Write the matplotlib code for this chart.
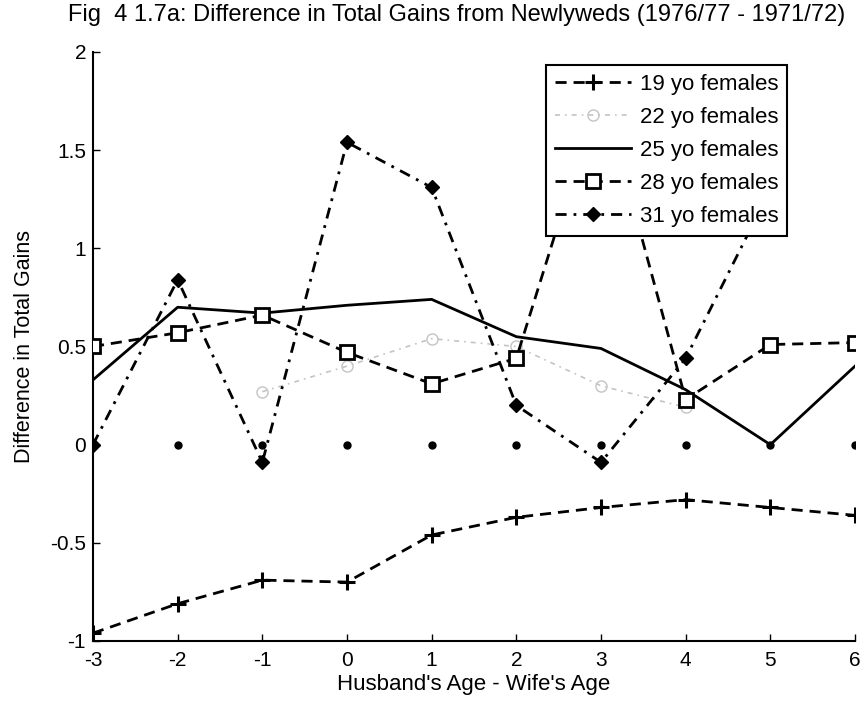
import numpy as np
import matplotlib
matplotlib.use("Agg")
import matplotlib.pyplot as plt

plt.rcParams['font.family'] = ['Liberation Sans', 'DejaVu Sans']
plt.rcParams['axes.unicode_minus'] = False

x = [-3, -2, -1, 0, 1, 2, 3, 4, 5, 6]
nan = np.nan
y19 = [-0.96, -0.81, -0.69, -0.70, -0.46, -0.37, -0.32, -0.28, -0.32, -0.36]
y22 = [nan, nan, 0.27, 0.40, 0.54, 0.50, 0.30, 0.19, nan, nan]
y25 = [0.33, 0.70, 0.67, 0.71, 0.74, 0.55, 0.49, 0.28, 0.00, 0.40]
y28 = [0.50, 0.57, 0.66, 0.47, 0.31, 0.44, 1.82, 0.23, 0.51, 0.52]
y31 = [0.00, 0.84, -0.09, 1.54, 1.31, 0.20, -0.09, 0.44, 1.30, nan]
zero = [0, 0, 0, 0, 0, 0, 0, 0, 0, 0]
labels = ['19 yo females', '22 yo females', '25 yo females', '28 yo females', '31 yo females']
xticks = [-3, -2, -1, 0, 1, 2, 3, 4, 5, 6]
yticks = [-1, -0.5, 0, 0.5, 1, 1.5, 2]
yticklabels = ['-1', '-0.5', '0', '0.5', '1', '1.5', '2']

fig = plt.figure(figsize=(8.63, 7.02), dpi=100)
ax = fig.add_axes([93/863, 61/702, 762/863, 589/702])

lw = 2.0
ax.plot(x, zero, linestyle='none', marker='o', color='black', markersize=5, zorder=2)
ax.plot(x, y19, color='black', linestyle=(0, (4, 2.5)), linewidth=lw, marker='+', markersize=12,
        markeredgewidth=2.2, label=labels[0], zorder=3)
ax.plot(x, y22, color='#c4c4c4', linestyle=(0, (3, 3, 1, 3)), linewidth=1.2, marker='o', markersize=8,
        markerfacecolor='none', markeredgecolor='#c4c4c4', markeredgewidth=1.0, label=labels[1], zorder=2)
ax.plot(x, y25, color='black', linestyle='-', linewidth=lw, label=labels[2], zorder=3)
ax.plot(x, y28, color='black', linestyle=(0, (4, 2.5)), linewidth=lw, marker='s', markersize=10,
        markerfacecolor='white', markeredgewidth=2.0, label=labels[3], zorder=4)
ax.plot(x, y31, color='black', linestyle=(0, (4, 2.5, 1, 2.5)), linewidth=lw, marker='D', markersize=7,
        markerfacecolor='black', label=labels[4], zorder=3)

ax.set_xlim(-3, 6)
ax.set_ylim(-1, 2)
ax.set_xticks(xticks)
ax.set_yticks(yticks)
ax.set_yticklabels(yticklabels)
ax.tick_params(direction='in', length=5, labelsize=15, width=1)
ax.tick_params(axis='x', pad=7)
ax.tick_params(axis='y', pad=5)
ax.spines['top'].set_visible(False)
ax.spines['right'].set_visible(False)
for s in ['left', 'bottom']:
    ax.spines[s].set_linewidth(1.5)

fig.text(457/863, 1 - 15/702,
         'Fig  4 1.7a: Difference in Total Gains from Newlyweds (1976/77 - 1971/72)',
         fontsize=17, ha='center', va='center')
ax.set_xlabel("Husband's Age - Wife's Age", fontsize=16, labelpad=3)
ax.set_ylabel('Difference in Total Gains', fontsize=15.5)
ax.yaxis.set_label_coords(-0.076, 0.5)

leg = ax.legend(loc='upper right', bbox_to_anchor=(0.911, 0.978), borderaxespad=0,
                fontsize=16, handlelength=3.4, handletextpad=0.4, labelspacing=0.54,
                fancybox=False, framealpha=1, edgecolor='black', borderpad=0.4)
leg.get_frame().set_linewidth(1.5)

fig.savefig('out.png', dpi=100)
